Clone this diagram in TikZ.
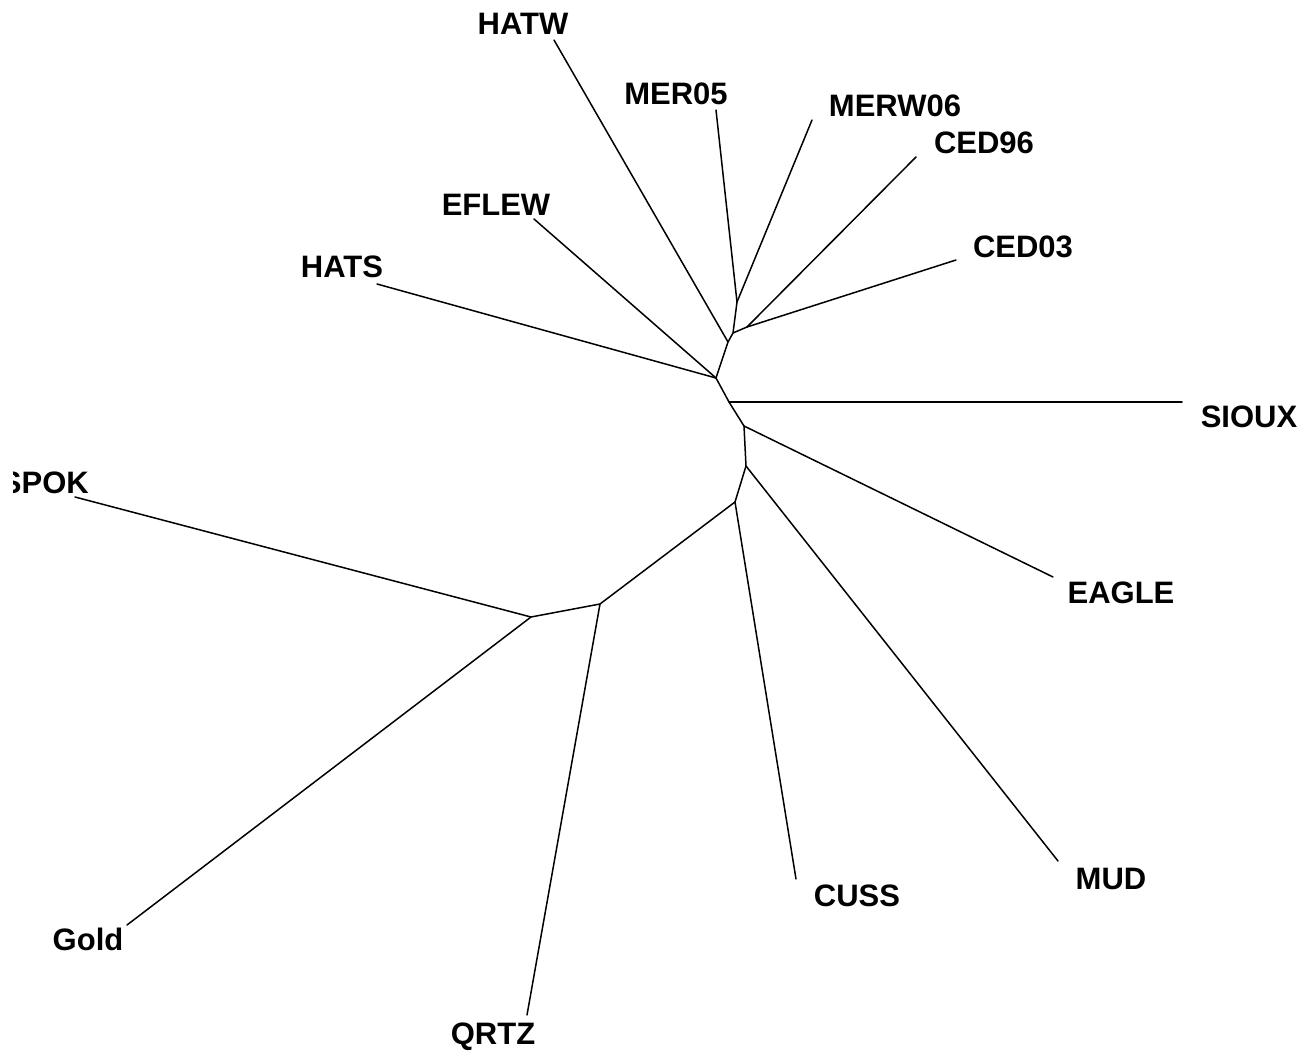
\documentclass[tikz,border=0pt]{standalone}
\usepackage{fontspec}
\setmainfont{Liberation Sans}
\begin{document}
\begin{tikzpicture}[x=1pt,y=-1pt,
  branch/.style={line width=1.5pt,line cap=round,line join=round},
  taxon/.style={font=\bfseries\fontsize{31}{37}\selectfont,anchor=base,inner sep=0pt}]
\useasboundingbox (0,0) rectangle (1310,1057);

% internal nodes of the unrooted tree
\coordinate (A) at (716,378);
\coordinate (B) at (728,342);
\coordinate (C) at (733,333);
\coordinate (D) at (737,302);
\coordinate (E) at (747,327);
\coordinate (F) at (729,402);
\coordinate (G) at (744,426);
\coordinate (H) at (746,466);
\coordinate (I) at (735,502);
\coordinate (J) at (600,604);
\coordinate (K) at (531,617);

% tips of the terminal branches
\coordinate (tHATW)   at (554,40);
\coordinate (tMER05)  at (716,110);
\coordinate (tMERW06) at (812,120);
\coordinate (tCED96)  at (916,157);
\coordinate (tCED03)  at (956,260);
\coordinate (tHATS)   at (377,284);
\coordinate (tEFLEW)  at (534,219);
\coordinate (tSIOUX)  at (1182,402);
\coordinate (tEAGLE)  at (1053,577);
\coordinate (tMUD)    at (1058,861);
\coordinate (tCUSS)   at (796,879);
\coordinate (tQRTZ)   at (527,1015);
\coordinate (tSPOK)   at (75,497);
\coordinate (tGold)   at (127,925);

% taxon labels
\node[taxon] (HATW)   at (523,35)   {HATW};
\node[taxon] (MER05)  at (676,105)  {MER05};
\node[taxon] (MERW06) at (895,116)  {MERW06};
\node[taxon] (CED96)  at (984,153)  {CED96};
\node[taxon] (CED03)  at (1023,257) {CED03};
\node[taxon] (EFLEW)  at (496,215)  {EFLEW};
\node[taxon] (HATS)   at (342,277)  {HATS};
\node[taxon] (SIOUX)  at (1249,427) {SIOUX};
\node[taxon] (EAGLE)  at (1121,603) {EAGLE};
\node[taxon] (MUD)    at (1111,889) {MUD};
\node[taxon] (CUSS)   at (857,906)  {CUSS};
\node[taxon] (QRTZ)   at (493,1044) {QRTZ};
\node[taxon] (Gold)   at (88,950)   {Gold};
\begin{scope}
  \clip (13,440) rectangle (200,520);
  \node[taxon,anchor=base east] (SPOK) at (89,493) {SPOK};
\end{scope}

% inner branches
\draw[branch] (D) -- (C) -- (E);
\draw[branch] (C) -- (B) -- (A) -- (F) -- (G) -- (H) -- (I) -- (J) -- (K);

% terminal branches
\draw[branch] (B) -- (tHATW);
\draw[branch] (D) -- (tMER05);
\draw[branch] (D) -- (tMERW06);
\draw[branch] (E) -- (tCED96);
\draw[branch] (E) -- (tCED03);
\draw[branch] (A) -- (tHATS);
\draw[branch] (A) -- (tEFLEW);
\draw[branch] (F) -- (tSIOUX);
\draw[branch] (G) -- (tEAGLE);
\draw[branch] (H) -- (tMUD);
\draw[branch] (I) -- (tCUSS);
\draw[branch] (J) -- (tQRTZ);
\draw[branch] (K) -- (tSPOK);
\draw[branch] (K) -- (tGold);
\end{tikzpicture}
\end{document}
